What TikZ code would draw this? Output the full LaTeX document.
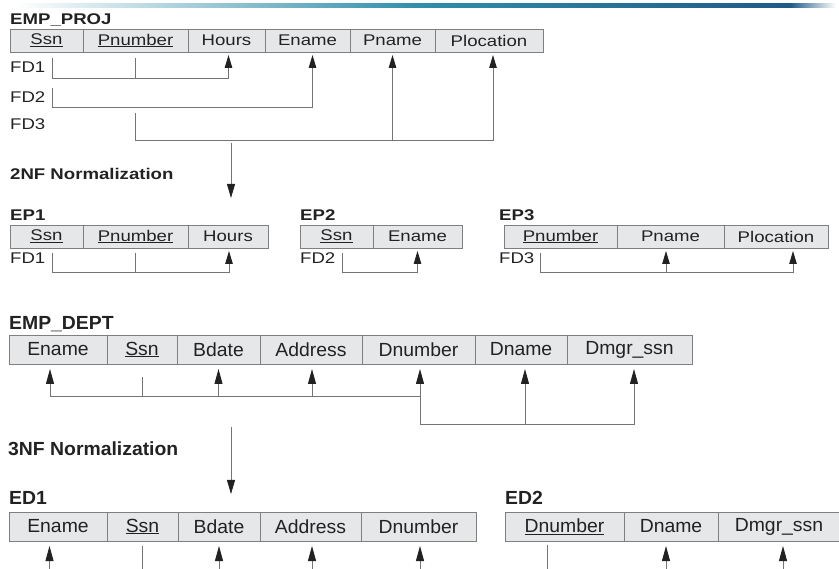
\documentclass[tikz,border=0pt]{standalone}
\usepackage{fontspec}
\setmainfont{Liberation Sans}
\newfontfamily\topfont[FakeStretch=1.2]{Liberation Sans}
\newfontfamily\botfont[FakeStretch=1.02]{Liberation Sans}
\usetikzlibrary{arrows.meta, positioning}
\definecolor{cellfill}{HTML}{E6E7E9}
\definecolor{cellline}{HTML}{7F7F7F}
\definecolor{fdline}{HTML}{747474}
\definecolor{inkgray}{HTML}{222222}
\definecolor{barteal}{HTML}{2F8EA9}
\definecolor{barblue}{HTML}{1F5A88}
\tikzset{
    cell/.style={rectangle, draw=cellline, fill=cellfill, line width=0.8pt, inner sep=0pt, outer sep=0pt, minimum height=23pt, text=inkgray, font=\topfont\fontsize{15.5}{17}\selectfont},
    bigcell/.style={cell, minimum height=29pt, font=\botfont\fontsize{19}{21}\selectfont},
    relname/.style={anchor=base west, inner sep=0pt, text=inkgray, font=\topfont\bfseries\fontsize{15.5}{17}\selectfont},
    bigrelname/.style={relname, font=\botfont\bfseries\fontsize{19}{21}\selectfont},
    fdname/.style={anchor=base west, inner sep=0pt, text=inkgray, font=\topfont\fontsize{15.5}{17}\selectfont},
    fd/.style={draw=fdline, line width=0.9pt},
    fdarrow/.style={fd, -{Triangle[length=13pt,width=7.5pt,color=inkgray]}, shorten >=3pt},
    bigfdarrow/.style={fd, -{Triangle[length=15pt,width=8pt,color=inkgray]}, shorten >=5pt},
    normarrow/.style={fd, -{Triangle[length=14pt,width=8pt,color=inkgray]}},
}

\begin{document}
\begin{tikzpicture}[x=1pt, y=-1pt]
\useasboundingbox (0,0) rectangle (839,569);
\clip (0,0) rectangle (839,569);

% slide bar
\shade[left color=white, right color=barteal] (15,3.5) rectangle (420,7.5);
\shade[left color=barteal, right color=barblue] (420,3.5) rectangle (790,7.5);
\shade[left color=barblue, right color=white] (790,3.5) rectangle (836,7.5);

% EMP_PROJ
\node[relname] (pj-name) at (10,25) {EMP\_PROJ};
\node[cell, minimum width=73pt, anchor=north west] (pj-ssn) at (10,29) {\underline{Ssn}};
\node[cell, minimum width=105pt, right=0pt of pj-ssn] (pj-pnum) {\underline{Pnumber}};
\node[cell, minimum width=77pt, right=0pt of pj-pnum] (pj-hours) {Hours};
\node[cell, minimum width=85pt, right=0pt of pj-hours] (pj-ename) {Ename};
\node[cell, minimum width=85pt, right=0pt of pj-ename] (pj-pname) {Pname};
\node[cell, minimum width=108pt, right=0pt of pj-pname] (pj-ploc) {Plocation};
\node[fdname] (pj-fd1) at (10,73) {FD1};
\node[fdname] (pj-fd2) at (10,103) {FD2};
\node[fdname] (pj-fd3) at (10,130) {FD3};
\draw[fdarrow] ([xshift=5.5pt,yshift=-6pt]pj-ssn.south) |- ([xshift=2pt,yshift=-26pt]pj-hours.south) -- ([xshift=2pt]pj-hours.south);
\draw[fd] ([yshift=-6pt]pj-pnum.south) -- ([yshift=-26pt]pj-pnum.south);
\draw[fdarrow] ([xshift=5.5pt,yshift=-36pt]pj-ssn.south) |- ([xshift=5pt,yshift=-55pt]pj-ename.south) -- ([xshift=5pt]pj-ename.south);
\draw[fdarrow] ([yshift=-61pt]pj-pnum.south) |- ([xshift=4pt,yshift=-88pt]pj-ploc.south) -- ([xshift=4pt]pj-ploc.south);
\draw[fdarrow] ([yshift=-88pt]pj-pname.south) -- (pj-pname.south);

% 2NF
\coordinate (nf2-top) at (231,143);
\coordinate (nf2-tip) at (231,198);
\draw[normarrow] (nf2-top) -- (nf2-tip);
\node[relname] (nf2) at (10,180) {2NF Normalization};

% EP1
\node[relname] (ep1-name) at (10,221) {EP1};
\node[cell, minimum width=73pt, anchor=north west] (ep1-ssn) at (10,225) {\underline{Ssn}};
\node[cell, minimum width=105pt, right=0pt of ep1-ssn] (ep1-pnum) {\underline{Pnumber}};
\node[cell, minimum width=80pt, right=0pt of ep1-pnum] (ep1-hours) {Hours};
\node[fdname] (ep1-fd) at (10,264) {FD1};
\draw[fdarrow] ([xshift=5.5pt,yshift=-5pt]ep1-ssn.south) |- ([xshift=1pt,yshift=-24pt]ep1-hours.south) -- ([xshift=1pt]ep1-hours.south);
\draw[fd] ([yshift=-5pt]ep1-pnum.south) -- ([yshift=-24pt]ep1-pnum.south);

% EP2
\node[relname] (ep2-name) at (300,221) {EP2};
\node[cell, minimum width=73pt, anchor=north west] (ep2-ssn) at (300,225) {\underline{Ssn}};
\node[cell, minimum width=89pt, right=0pt of ep2-ssn] (ep2-ename) {Ename};
\node[fdname] (ep2-fd) at (300,264) {FD2};
\draw[fdarrow] ([xshift=5.5pt,yshift=-5pt]ep2-ssn.south) |- ([yshift=-24pt]ep2-ename.south) -- (ep2-ename.south);

% EP3
\node[relname] (ep3-name) at (499,221) {EP3};
\node[cell, minimum width=113pt, anchor=north west] (ep3-pnum) at (504,225) {\underline{Pnumber}};
\node[cell, minimum width=107pt, right=0pt of ep3-pnum] (ep3-pname) {Pname};
\node[cell, minimum width=104pt, right=0pt of ep3-pname] (ep3-ploc) {Plocation};
\node[fdname] (ep3-fd) at (499,264) {FD3};
\draw[fdarrow] ([xshift=-20.5pt,yshift=-5pt]ep3-pnum.south) |- ([xshift=17pt,yshift=-24pt]ep3-ploc.south) -- ([xshift=17pt]ep3-ploc.south);
\draw[fdarrow] ([xshift=-4.5pt,yshift=-24pt]ep3-pname.south) -- ([xshift=-4.5pt]ep3-pname.south);

% EMP_DEPT
\node[bigrelname] (dept-name) at (9,330) {EMP\_DEPT};
\node[bigcell, minimum width=98pt, anchor=north west] (dept-ename) at (9,335) {Ename};
\node[bigcell, minimum width=70pt, right=0pt of dept-ename] (dept-ssn) {\underline{Ssn}};
\node[bigcell, minimum width=83pt, right=0pt of dept-ssn] (dept-bdate) {Bdate};
\node[bigcell, minimum width=102pt, right=0pt of dept-bdate] (dept-addr) {Address};
\node[bigcell, minimum width=113pt, right=0pt of dept-addr] (dept-dnum) {Dnumber};
\node[bigcell, minimum width=92pt, right=0pt of dept-dnum] (dept-dname) {Dname};
\node[bigcell, minimum width=125pt, right=0pt of dept-dname] (dept-dmgr) {Dmgr\_ssn};
\draw[bigfdarrow] ([xshift=1.5pt,yshift=-32pt]dept-dnum.south) -| ([xshift=-8pt]dept-ename.south);
\draw[fd] ([yshift=-13pt]dept-ssn.south) -- ([yshift=-32pt]dept-ssn.south);
\draw[bigfdarrow] ([yshift=-32pt]dept-bdate.south) -- (dept-bdate.south);
\draw[bigfdarrow] ([xshift=1pt,yshift=-32pt]dept-addr.south) -- ([xshift=1pt]dept-addr.south);
\draw[bigfdarrow] ([xshift=1.5pt,yshift=-60pt]dept-dnum.south) -- ([xshift=1.5pt]dept-dnum.south);
\draw[bigfdarrow] ([xshift=1.5pt,yshift=-60pt]dept-dnum.south) -| ([xshift=4.5pt]dept-dmgr.south);
\draw[bigfdarrow] ([xshift=4pt,yshift=-60pt]dept-dname.south) -- ([xshift=4pt]dept-dname.south);

% 3NF
\coordinate (nf3-top) at (231,427);
\coordinate (nf3-tip) at (231,494);
\draw[normarrow] (nf3-top) -- (nf3-tip);
\node[bigrelname] (nf3) at (8,456) {3NF Normalization};

% ED1
\node[bigrelname] (ed1-name) at (9,505) {ED1};
\node[bigcell, minimum width=98pt, anchor=north west] (ed1-ename) at (9,512) {Ename};
\node[bigcell, minimum width=71pt, right=0pt of ed1-ename] (ed1-ssn) {\underline{Ssn}};
\node[bigcell, minimum width=82pt, right=0pt of ed1-ssn] (ed1-bdate) {Bdate};
\node[bigcell, minimum width=101pt, right=0pt of ed1-bdate] (ed1-addr) {Address};
\node[bigcell, minimum width=115pt, right=0pt of ed1-addr] (ed1-dnum) {Dnumber};
\draw[bigfdarrow] ([xshift=-8.5pt,yshift=-40pt]ed1-ename.south) -- ([xshift=-8.5pt]ed1-ename.south);
\draw[fd] ([yshift=-5pt]ed1-ssn.south) -- ([yshift=-40pt]ed1-ssn.south);
\draw[bigfdarrow] ([yshift=-40pt]ed1-bdate.south) -- (ed1-bdate.south);
\draw[bigfdarrow] ([xshift=1.5pt,yshift=-40pt]ed1-addr.south) -- ([xshift=1.5pt]ed1-addr.south);
\draw[bigfdarrow] ([xshift=1.5pt,yshift=-40pt]ed1-dnum.south) -- ([xshift=1.5pt]ed1-dnum.south);

% ED2
\node[bigrelname] (ed2-name) at (505,505) {ED2};
\node[bigcell, minimum width=119pt, anchor=north west] (ed2-dnum) at (505,512) {\underline{Dnumber}};
\node[bigcell, minimum width=94pt, right=0pt of ed2-dnum] (ed2-dname) {Dname};
\node[bigcell, minimum width=122pt, right=0pt of ed2-dname] (ed2-dmgr) {Dmgr\_ssn};
\draw[fd] ([xshift=-17.5pt,yshift=-4pt]ed2-dnum.south) -- ([xshift=-17.5pt,yshift=-40pt]ed2-dnum.south);
\draw[bigfdarrow] ([xshift=-5pt,yshift=-40pt]ed2-dname.south) -- ([xshift=-5pt]ed2-dname.south);
\draw[bigfdarrow] ([xshift=4pt,yshift=-40pt]ed2-dmgr.south) -- ([xshift=4pt]ed2-dmgr.south);
\end{tikzpicture}
\end{document}
